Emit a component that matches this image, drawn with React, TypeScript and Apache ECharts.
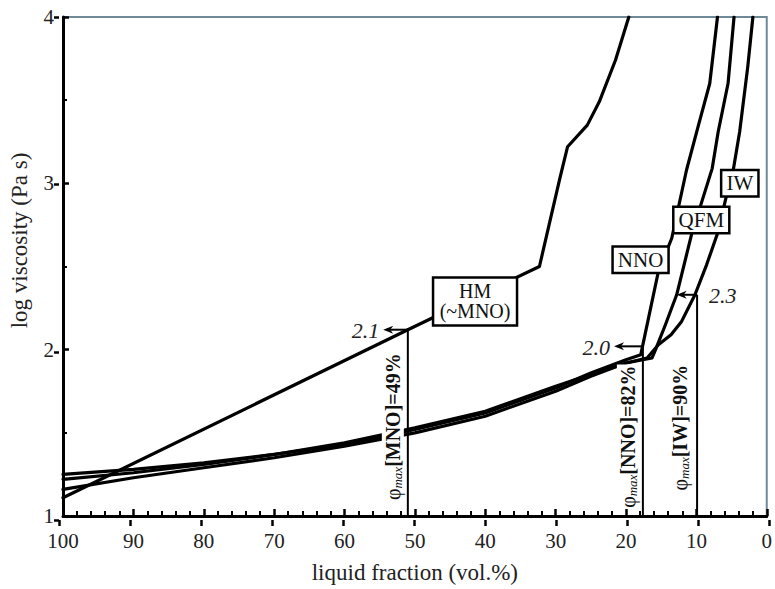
import React, { useEffect, useRef } from "react";
import * as echarts from "echarts";

// ---- data ----
const xTickValues = [100, 90, 80, 70, 60, 50, 40, 30, 20, 10, 0];
const yTickValues = [1, 2, 3, 4];

const hmCurve: number[][] = [
  [100, 1.11], [51, 2.12], [32.3, 2.5], [29.4, 3.03], [28.3, 3.22],
  [25.5, 3.35], [23.8, 3.49], [21.5, 3.74], [19.6, 4.0],
];
const nnoCurve: number[][] = [
  [100, 1.25], [90, 1.28], [80, 1.32], [70, 1.37], [60, 1.43], [50, 1.52],
  [40, 1.62], [30, 1.77], [25, 1.86], [20, 1.94], [17.9, 1.97], [17.6, 2.03],
  [15.4, 2.47], [13.5, 2.67], [11.4, 3.08], [9.7, 3.35], [8.1, 3.6], [7.0, 4.0],
];
const qfmCurve: number[][] = [
  [100, 1.22], [90, 1.26], [80, 1.31], [70, 1.37], [60, 1.44], [50, 1.53],
  [40, 1.63], [30, 1.78], [25, 1.85], [20, 1.92], [16.3, 1.95], [15.8, 2.0],
  [14.4, 2.15], [12.8, 2.33], [10.7, 2.69], [7.75, 3.09], [6.9, 3.31],
  [5.5, 3.6], [4.65, 4.0],
];
const iwCurve: number[][] = [
  [100, 1.16], [90, 1.23], [80, 1.29], [70, 1.35], [60, 1.42], [50, 1.5],
  [40, 1.6], [30, 1.75], [25, 1.84], [20, 1.92], [17, 1.95], [15.4, 2.03],
  [13.6, 2.09], [12.1, 2.17], [10.2, 2.33], [8.55, 2.51], [6.9, 2.71], [5.7, 2.93],
  [4.8, 3.07], [3.85, 3.31], [2.7, 3.7], [1.97, 4.0],
];

// phi_max markers: liquid fraction, viscosity at the curve, arrow tip x, label
const phiNames = ["MNO", "NNO", "IW"];
const phiPercent = ["49%", "82%", "90%"];
const phiX = [51, 17.6, 9.9];
const phiY = [2.12, 2.02, 2.33];
const arrowTipX = [54.5, 21.7, 12.8];
const arrowLabels = ["2.1", "2.0", "2.3"];
const phiTextCenterY = [1.537, 1.477, 1.531];

// curve name boxes: label lines, x, y (box centre)
const boxLabels = [["HM", "(~MNO)"], ["NNO"], ["QFM"], ["IW"]];
const boxX = [41.45, 17.93, 9.3, 3.83];
const boxY = [2.29, 2.54, 2.78, 3.0];

const FONT = "Liberation Serif";

export default function App() {
  const ref = useRef<HTMLDivElement>(null);

  useEffect(() => {
    const chart = echarts.init(ref.current!, null, { renderer: "svg" });
    const gridRect = { left: 59, top: 17, width: 710, height: 503 };

    const curveSeries = (name: string, data: number[][]) => ({
      name,
      type: "line",
      data,
      xAxisIndex: 0,
      yAxisIndex: 0,
      showSymbol: false,
      symbol: "none",
      smooth: false,
      lineStyle: { color: "#000", width: 3.2, join: "round", cap: "round" },
      z: 3,
    });

    const vSeries = phiX.map((x, i) => ({
      name: "phi" + i,
      type: "line",
      data: [[x, 1], [x, phiY[i]]],
      symbol: "none",
      lineStyle: { color: "#000", width: 2 },
      z: 2,
    }));

    const axisCommon = {
      type: "value" as const,
      splitLine: { show: false },
    };

    const option: any = {
      animation: false,
      backgroundColor: "#fff",
      textStyle: { fontFamily: FONT },
      grid: [
        { ...gridRect, show: true, borderColor: "#6f8a96", borderWidth: 2, backgroundColor: "transparent" },
        { ...gridRect, show: false },
      ],
      xAxis: [
        {
          ...axisCommon,
          gridIndex: 0,
          min: 0,
          max: 100,
          interval: 10,
          inverse: true,
          axisLine: { show: true, onZero: false, lineStyle: { color: "#000", width: 3 } },
          axisTick: { show: true, inside: true, length: 7, lineStyle: { color: "#000", width: 2.5 } },
          minorTick: { show: true, splitNumber: 5, length: 5, lineStyle: { color: "#000", width: 2 } },
          axisLabel: {
            show: true,
            margin: 14,
            color: "#222",
            fontFamily: FONT,
            fontSize: 21,
            formatter: (v: number) => (xTickValues.includes(v) ? String(v) : ""),
          },
          name: "liquid fraction (vol.%)",
          nameLocation: "middle",
          nameGap: 45,
          nameTextStyle: { color: "#222", fontFamily: FONT, fontSize: 23 },
        },
        {
          ...axisCommon,
          gridIndex: 1,
          min: 0,
          max: 100,
          interval: 10,
          inverse: true,
          axisLine: { show: false, onZero: false },
          axisTick: { show: true, inside: false, length: 6, lineStyle: { color: "#000", width: 2.5 } },
          axisLabel: { show: false },
        },
      ],
      yAxis: [
        {
          ...axisCommon,
          gridIndex: 0,
          min: 1,
          max: 4,
          interval: 1,
          axisLine: { show: true, onZero: false, lineStyle: { color: "#000", width: 3 } },
          axisTick: { show: true, inside: true, length: 6, lineStyle: { color: "#000", width: 2.5 } },
          minorTick: { show: true, splitNumber: 2, length: 4, lineStyle: { color: "#000", width: 2 } },
          axisLabel: {
            show: true,
            margin: 9,
            color: "#222",
            fontFamily: FONT,
            fontSize: 21,
            formatter: (v: number) => (yTickValues.includes(v) ? String(v) : ""),
          },
          name: "log viscosity (Pa s)",
          nameLocation: "middle",
          nameGap: 32,
          nameTextStyle: { color: "#222", fontFamily: FONT, fontSize: 23, padding: [0, 0, 0, 52] },
        },
        {
          ...axisCommon,
          gridIndex: 1,
          min: 1,
          max: 4,
          interval: 1,
          axisLine: { show: false, onZero: false },
          axisTick: { show: true, inside: false, length: 5, lineStyle: { color: "#000", width: 2.5 } },
          axisLabel: { show: false },
        },
      ],
      series: [
        curveSeries("HM", hmCurve),
        curveSeries("NNO", nnoCurve),
        curveSeries("QFM", qfmCurve),
        curveSeries("IW", iwCurve),
        ...vSeries,
      ],
    };

    chart.setOption(option);

    const px = (p: number[]) => chart.convertToPixel({ seriesIndex: 0 }, p) as number[];
    const elements: any[] = [];

    // arrows and their labels
    phiX.forEach((x, i) => {
      const base = px([x, phiY[i]]);
      const tip = px([arrowTipX[i], phiY[i]]);
      elements.push({
        type: "line",
        z: 50,
        shape: { x1: base[0], y1: base[1], x2: tip[0] + 4, y2: tip[1] },
        style: { stroke: "#000", lineWidth: 2 },
      });
      elements.push({
        type: "polygon",
        z: 50,
        shape: { points: [[tip[0], tip[1]], [tip[0] + 10, tip[1] - 4], [tip[0] + 7, tip[1]], [tip[0] + 10, tip[1] + 4]] },
        style: { fill: "#000" },
      });
      const isRight = i === 2;
      elements.push({
        type: "text",
        z: 50,
        x: isRight ? base[0] + 12 : tip[0] - 4,
        y: base[1] + 1,
        style: {
          text: arrowLabels[i],
          fill: "#222",
          fontFamily: FONT,
          fontSize: 22,
          fontStyle: "italic",
          align: isRight ? "left" : "right",
          verticalAlign: "middle",
        },
      });
      // rotated phi_max labels (white background masks the curves behind)
      const c = px([x, phiTextCenterY[i]]);
      elements.push({
        type: "text",
        z: 40,
        x: c[0] - (i === 2 ? 17 : 15),
        y: c[1],
        rotation: Math.PI / 2,
        style: {
          text: `{p|φ}{s|max}{b|[${phiNames[i]}]=${phiPercent[i]}}`,
          align: "center",
          verticalAlign: "middle",
          backgroundColor: "#fff",
          padding: [0, 1, 0, 1],
          rich: {
            p: { fontFamily: FONT, fontSize: 20, fill: "#111", lineHeight: 22 },
            s: { fontFamily: FONT, fontSize: 13, fontStyle: "italic", fill: "#111", lineHeight: 22, verticalAlign: "bottom" },
            b: { fontFamily: FONT, fontSize: 20, fontWeight: "bold", fill: "#111", lineHeight: 22 },
          },
        },
      });
    });

    // boxed curve labels
    boxLabels.forEach((lines, i) => {
      const c = px([boxX[i], boxY[i]]);
      if (lines.length > 1) {
        const w = 84;
        const h = 48;
        elements.push({
          type: "rect",
          z: 58,
          shape: { x: c[0] - w / 2, y: c[1] - h / 2, width: w, height: h },
          style: { fill: "#fff", stroke: "#000", lineWidth: 2.5 },
        });
        lines.forEach((t, k) => {
          elements.push({
            type: "text",
            z: 60,
            x: c[0],
            y: c[1] - 10 + k * 20,
            style: {
              text: t,
              fill: "#111",
              fontFamily: FONT,
              fontSize: 20,
              align: "center",
              verticalAlign: "middle",
            },
          });
        });
      } else {
        elements.push({
          type: "text",
          z: 60,
          x: c[0],
          y: c[1],
          style: {
            text: lines[0],
            fill: "#111",
            fontFamily: FONT,
            fontSize: 21,
            align: "center",
            verticalAlign: "middle",
            backgroundColor: "#fff",
            borderColor: "#000",
            borderWidth: 2.5,
            padding: [2, 4, 1, 4],
          },
        });
      }
    });

    chart.setOption({ graphic: elements });

    return () => chart.dispose();
  }, []);

  return (
    <div
      ref={ref}
      style={{ position: "fixed", left: 0, top: 0, width: 775, height: 589, background: "#fff" }}
    />
  );
}
